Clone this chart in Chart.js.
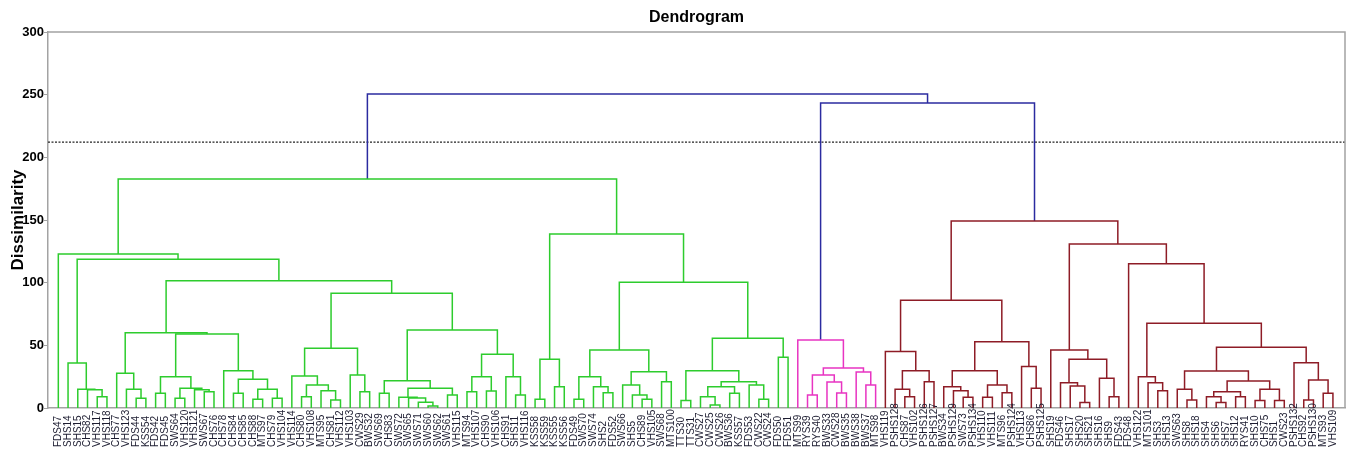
<!DOCTYPE html>
<html>
<head>
<meta charset="utf-8">
<script src="https://cdn.jsdelivr.net/npm/chart.js@4.4.1/dist/chart.umd.min.js"></script>
<style>
  html, body { margin: 0; padding: 0; background: #fff; }
  #wrap { width: 1351px; height: 451px; }
</style>
</head>
<body>
<div id="wrap"><canvas id="c" width="1351" height="451"></canvas></div>
<script>
// Leaf order along the x axis (left to right)
const leaves = [
  "FDS47","SHS14","SHS15","CHS82","VHS117","VHS118","CHS77","VHS123","FDS44","KSS54",
  "FDS42","FDS45","SWS64","VHS120","VHS121","SWS67","CHS76","CHS78","CHS84","CHS85",
  "CHS88","MTS97","CHS79","VHS104","VHS114","CHS80","VHS108","MTS95","CHS81","VHS112",
  "VHS103","CWS29","BWS32","SWS69","CHS83","SWS72","SWS65","SWS71","SWS60","SWS62",
  "SWS61","VHS115","MTS94","VHS107","CHS90","VHS106","CHS91","SHS11","VHS116","KSS58",
  "KSS59","KSS55","KSS56","FDS49","SWS70","SWS74","SHS2","FDS52","SWS66","SHS5",
  "CHS89","VHS105","SWS68","MTS100","TTS30","TTS31","CWS27","CWS25","CWS26","BWS36",
  "KSS57","FDS53","CWS22","CWS24","FDS50","FDS51","MTS99","RYS39","RYS40","BWS33",
  "CWS28","BWS35","BWS38","BWS37","MTS98","VHS119","PSHS128","CHS87","VHS102","PSHS126",
  "PSHS127","BWS34","PSHS129","SWS73","PSHS134","VHS110","VHS111","MTS96","PSHS124","VHS113",
  "CHS86","PSHS125","SHS19","FDS46","SHS17","SHS20","SHS21","SHS16","SHS9","FDS43",
  "FDS48","VHS122","MTS101","SHS3","SHS13","SWS63","SHS8","SHS18","SHS4","SHS6",
  "SHS7","SHS12","RYS41","SHS10","CHS75","SHS1","CWS23","PSHS132","CHS92","PSHS130",
  "MTS93","VHS109"
];

// Agglomeration steps: [left, right, dissimilarity]
// left/right is a leaf name or the row number of an earlier step
const merges = [
  ["VHS117","VHS118",9.0],   // 0
  ["CHS82",0,14.5],          // 1
  ["SHS15",1,14.9],          // 2
  ["SHS14",2,35.9],          // 3
  ["FDS44","KSS54",7.7],     // 4
  ["VHS123",4,14.9],         // 5
  ["CHS77",5,27.7],          // 6
  ["FDS42","FDS45",11.7],    // 7
  ["SWS64","VHS120",7.7],    // 8
  ["SWS67","CHS76",13.0],    // 9
  ["VHS121",9,14.5],         // 10
  [8,10,15.7],               // 11
  [7,11,25.0],               // 12
  ["CHS84","CHS85",11.7],    // 13
  ["CHS88","MTS97",6.9],     // 14
  ["CHS79","VHS104",7.7],    // 15
  [14,15,14.9],              // 16
  [13,16,22.9],              // 17
  ["CHS78",17,29.8],         // 18
  [12,18,59.0],              // 19
  [6,19,60.1],               // 20
  ["CHS80","VHS108",9.0],    // 21
  ["CHS81","VHS112",6.4],    // 22
  ["MTS95",22,13.8],         // 23
  [21,23,18.4],              // 24
  ["VHS114",24,25.5],        // 25
  ["CWS29","BWS32",13.0],    // 26
  ["VHS103",26,26.3],        // 27
  [25,27,47.6],              // 28
  ["SWS69","CHS83",11.7],    // 29
  ["SWS60","SWS62",1.6],     // 30
  ["SWS71",30,4.5],          // 31
  ["SWS65",31,8.0],          // 32
  ["SWS72",32,8.5],          // 33
  ["SWS61","VHS115",10.4],   // 34
  [33,34,15.7],              // 35
  [29,35,21.8],              // 36
  ["MTS94","VHS107",13.0],   // 37
  ["CHS90","VHS106",13.5],   // 38
  [37,38,25.0],              // 39
  ["SHS11","VHS116",10.4],   // 40
  ["CHS91",40,25.0],         // 41
  [39,41,42.8],              // 42
  [36,42,62.2],              // 43
  [28,43,91.5],              // 44
  [20,44,101.6],             // 45
  [3,45,118.6],              // 46
  ["FDS47",46,122.9],        // 47
  ["KSS58","KSS59",6.9],     // 48
  ["KSS55","KSS56",17.0],    // 49
  [48,49,38.8],              // 50
  ["FDS49","SWS70",6.9],     // 51
  ["SHS2","FDS52",12.2],     // 52
  ["SWS74",52,17.0],         // 53
  [51,53,25.0],              // 54
  ["CHS89","VHS105",6.9],    // 55
  ["SHS5",55,10.4],          // 56
  ["SWS66",56,18.4],         // 57
  ["SWS68","MTS100",21.0],   // 58
  [57,58,29.0],              // 59
  [54,59,46.3],              // 60
  ["TTS30","TTS31",5.9],     // 61
  ["CWS25","CWS26",2.4],     // 62
  ["CWS27",62,9.0],          // 63
  ["BWS36","KSS57",11.7],    // 64
  [63,64,17.0],              // 65
  ["CWS22","CWS24",6.9],     // 66
  ["FDS53",66,18.4],         // 67
  [65,67,21.0],              // 68
  [61,68,29.8],              // 69
  ["FDS50","FDS51",40.4],    // 70
  [69,70,55.6],              // 71
  [60,71,100.3],             // 72
  [50,72,138.8],             // 73
  [47,73,182.7],             // 74
  ["RYS39","RYS40",10.4],    // 75
  ["CWS28","BWS35",12.0],    // 76
  ["BWS33",76,20.7],         // 77
  [75,77,26.3],              // 78
  ["BWS37","MTS98",18.4],    // 79
  ["BWS38",79,28.7],         // 80
  [78,80,31.9],              // 81
  ["MTS99",81,54.3],         // 82
  ["CHS87","VHS102",9.0],    // 83
  ["PSHS128",83,14.9],       // 84
  ["PSHS126","PSHS127",21.0],// 85
  [84,85,29.8],              // 86
  ["VHS119",86,45.0],        // 87
  ["SWS73","PSHS134",8.5],   // 88
  ["PSHS129",88,13.8],       // 89
  ["BWS34",89,17.0],         // 90
  ["VHS110","VHS111",8.5],   // 91
  ["MTS96","PSHS124",12.2],  // 92
  [91,92,18.4],              // 93
  [90,93,29.8],              // 94
  ["CHS86","PSHS125",15.7],  // 95
  ["VHS113",95,33.2],        // 96
  [94,96,52.9],              // 97
  [87,97,85.9],              // 98
  ["SHS20","SHS21",4.3],     // 99
  ["SHS17",99,17.6],         // 100
  ["FDS46",100,20.2],        // 101
  ["SHS9","FDS43",9.0],      // 102
  ["SHS16",102,23.7],        // 103
  [101,103,38.8],            // 104
  ["SHS19",104,46.3],        // 105
  ["SHS3","SHS13",13.8],     // 106
  ["MTS101",106,20.2],       // 107
  ["VHS122",107,25.0],       // 108
  ["SHS8","SHS18",6.4],      // 109
  ["SWS63",109,14.9],        // 110
  ["SHS6","SHS7",4.3],       // 111
  ["SHS4",111,9.0],          // 112
  ["SHS12","RYS41",9.0],     // 113
  [112,113,13.0],            // 114
  ["SHS10","CHS75",5.9],     // 115
  ["SHS1","CWS23",5.9],      // 116
  [115,116,14.9],            // 117
  [114,117,21.5],            // 118
  [110,118,29.5],            // 119
  ["CHS92","PSHS130",6.4],   // 120
  ["MTS93","VHS109",11.7],   // 121
  [120,121,22.3],            // 122
  ["PSHS132",122,36.2],      // 123
  [119,123,48.4],            // 124
  [108,124,67.6],            // 125
  ["FDS48",125,115.1],       // 126
  [105,126,130.9],           // 127
  [98,127,149.2],            // 128
  [82,128,243.4],            // 129
  [74,129,250.5]             // 130
];

// Truncation level that separates the classes
const cutHeight = 212.2;
const yTicks = [0, 50, 100, 150, 200, 250, 300];
const clusterColors = ["#2dcc2d", "#e834c2", "#8e1c26"];
const linkColor = "#2b2ba0";

// ---- build node positions ----
const leafPos = {};
leaves.forEach((n, i) => { leafPos[n] = i; });
const nodes = [];
function ref(r) {
  return typeof r === "number" ? nodes[r] : { x: leafPos[r], h: 0 };
}
merges.forEach(([a, b, h], k) => {
  const A = ref(a), B = ref(b);
  nodes[k] = { x: (A.x + B.x) / 2, h: h };
});

// ---- colour each link by the class it belongs to ----
const colorOf = new Array(merges.length);
let nextCluster = 0;
function paint(k, inherited) {
  const [a, b, h] = merges[k];
  let c = inherited;
  if (!c && h <= cutHeight) c = clusterColors[nextCluster++ % clusterColors.length];
  colorOf[k] = c || linkColor;
  if (typeof a === "number") paint(a, c);
  if (typeof b === "number") paint(b, c);
}
paint(merges.length - 1, null);

const xMin = -1.06, xMax = 132.24;

const datasets = merges.map(([a, b, h], k) => {
  const A = ref(a), B = ref(b);
  return {
    data: [{ x: A.x, y: A.h }, { x: A.x, y: h }, { x: B.x, y: h }, { x: B.x, y: B.h }],
    borderColor: colorOf[k],
    borderWidth: 1.5,
    showLine: true,
    pointRadius: 0,
    fill: false,
    tension: 0
  };
});
datasets.push({
  data: [{ x: xMin, y: cutHeight }, { x: xMax, y: cutHeight }],
  borderColor: "#222",
  borderWidth: 1.3,
  borderDash: [2, 1.5],
  showLine: true,
  pointRadius: 0,
  fill: false
});

// frame around the plot and the rotated leaf names
const framePlugin = {
  id: "frameAndLeaves",
  afterDatasetsDraw(chart) {
    const { ctx, chartArea: a, scales } = chart;
    ctx.save();
    ctx.strokeStyle = "#a3a3a3";
    ctx.lineWidth = 1.5;
    ctx.beginPath();
    ctx.moveTo(a.left, a.top);
    ctx.lineTo(a.right, a.top);
    ctx.lineTo(a.right, a.bottom);
    ctx.stroke();
    ctx.restore();

    ctx.save();
    ctx.font = "10px 'Liberation Sans', Arial, sans-serif";
    ctx.fillStyle = "#1c1c30";
    ctx.textAlign = "left";
    ctx.textBaseline = "middle";
    leaves.forEach((name, i) => {
      const x = scales.x.getPixelForValue(i);
      ctx.save();
      ctx.translate(x, 447);
      ctx.rotate(-Math.PI / 2);
      ctx.fillText(name, 0, 0);
      ctx.restore();
    });
    ctx.restore();
  }
};

new Chart(document.getElementById("c"), {
  type: "scatter",
  data: { datasets },
  plugins: [framePlugin],
  options: {
    responsive: false,
    animation: false,
    layout: { padding: { left: 0, right: 6, top: 0, bottom: 43 } },
    plugins: {
      legend: { display: false },
      tooltip: { enabled: false },
      title: {
        display: true,
        text: "Dendrogram",
        fullSize: false,
        color: "#000",
        font: { family: "'Liberation Sans', Arial, sans-serif", size: 16, weight: "bold" },
        padding: { top: 8, bottom: 4.8 }
      }
    },
    scales: {
      x: {
        type: "linear",
        min: xMin,
        max: xMax,
        ticks: { display: false },
        grid: { display: false },
        border: { display: true, color: "#a3a3a3", width: 1.5 },
        afterFit(scale) { scale.height = 0; }
      },
      y: {
        type: "linear",
        min: 0,
        max: 300,
        afterBuildTicks(scale) { scale.ticks = yTicks.map(v => ({ value: v })); },
        ticks: {
          color: "#000",
          padding: 0,
          font: { family: "'Liberation Sans', Arial, sans-serif", size: 13, weight: "bold" }
        },
        grid: { drawOnChartArea: false, drawTicks: true, tickLength: 4, color: "#a3a3a3" },
        border: { display: true, color: "#a3a3a3", width: 1.5 },
        title: {
          display: true,
          text: "Dissimilarity",
          color: "#000",
          font: { family: "'Liberation Sans', Arial, sans-serif", size: 17, weight: "bold" },
          padding: { top: 8, bottom: 0 }
        },
        afterFit(scale) { scale.width = 48; }
      }
    }
  }
});
</script>
</body>
</html>
